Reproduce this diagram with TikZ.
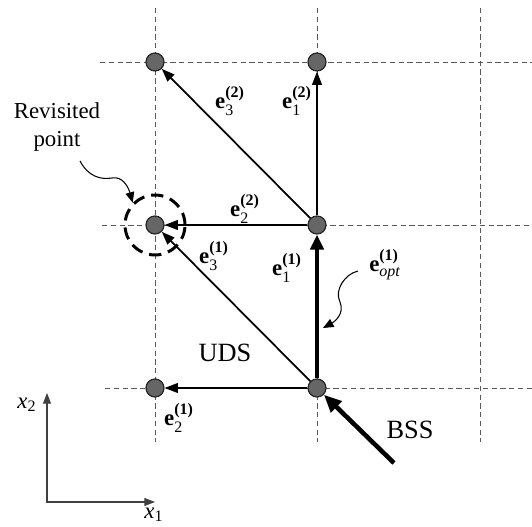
\documentclass[tikz,border=0pt]{standalone}
\usepackage{amsmath}
\usepackage{fontspec}
\setmainfont{Liberation Serif}
\usetikzlibrary{arrows.meta,positioning}
\newcommand{\evlabel}[2]{$\textbf{e}^{\textbf{(#2)}}_{\textrm{#1}}$}

\begin{document}
\begin{tikzpicture}[x=0.02cm,y=-0.02cm,
  gridline/.style={gray!70!black,line width=0.5pt,dash pattern=on 3pt off 2pt},
  dot/.style={circle,draw=black!85,line width=0.7pt,fill=black!60,minimum size=0.36cm,inner sep=0pt},
  vec/.style={line width=1pt,-{Triangle[length=7.5pt,width=5.5pt]}},
  optvec/.style={line width=2.3pt,-{Triangle[length=8.5pt,width=7.5pt]}},
  curvy/.style={line width=0.6pt,-{Triangle[length=6pt,width=5pt]}},
  axis/.style={line width=0.6pt,black!75},
  elabel/.style={font=\fontsize{13}{15}\selectfont},
  bigtext/.style={font=\fontsize{15}{17}\selectfont}]
\useasboundingbox (0,0) rectangle (532,527);
% grid
\foreach \x in {155,317,480}
  \draw[gridline] (\x,8)--(\x,442);
\draw[gridline] (100,62)--(532,62);
\draw[gridline] (102,225)--(532,225);
\draw[gridline] (105,388)--(532,388);
% search points
\node[dot] (lt) at (155,62){};
\node[dot] (rt) at (317,62){};
\node[dot] (lm) at (155,225){};
\node[dot] (rm) at (317,225){};
\node[dot] (lb) at (155,388){};
\node[dot] (rb) at (317,388){};
\node[circle,draw,line width=1.7pt,dash pattern=on 7pt off 4pt,minimum size=1.2cm] (revisit) at (lm){};
% moves
\draw[vec] (rb) -- (lb);
\draw[vec] (rb) -- (lm);
\draw[optvec] (rb) -- (rm);
\draw[vec] (rm) -- (lm);
\draw[vec] (rm) -- (lt);
\draw[vec] (rm) -- (rt);
\coordinate (bsstail) at (394,463);
\draw[line width=2.6pt,-{Triangle[length=10pt,width=8.5pt]}] (bsstail) -- (rb);
% labels
\node[elabel] (e32) at (230,101){\evlabel{3}{2}};
\node[elabel] (e12) at (297,101){\evlabel{1}{2}};
\node[elabel] (e22) at (245,209){\evlabel{2}{2}};
\node[elabel] (e31) at (214,256){\evlabel{3}{1}};
\node[elabel] (e11) at (287,268){\evlabel{1}{1}};
\node[elabel] (e21) at (179,418){\evlabel{2}{1}};
\node[elabel] (eopt) at (385,265){$\textbf{e}^{\textbf{(1)}}_{\textit{opt}}$};
\node[bigtext] (uds) at (225,353){UDS};
\node[bigtext] (bss) at (410,430){BSS};
\node[font=\fontsize{13}{16}\selectfont,align=center] (revtext) at (57,127){Revisited\\point};
% pointers
\coordinate (revtail) at (80,161);
\draw[curvy] (revtail) .. controls (88,176) and (100,180) .. (112,178) .. controls (122,176) and (128,186) .. (revisit.135);
\coordinate (opttail) at (358,271);
\coordinate (opthead) at (323,328);
\draw[curvy] (opttail) .. controls (345,274) and (334,290) .. (340,302) .. controls (345,314) and (334,322) .. (opthead);
% axes
\coordinate (origin) at (47,502);
\coordinate (x2tip) at (47,393);
\coordinate (x1tip) at (155,502);
\draw[axis,{Triangle[length=6pt,width=4.5pt]}-{Triangle[length=6pt,width=4.5pt]}] (x2tip) |- (x1tip);
\node[font=\fontsize{13}{15}\selectfont] (x2lab) at (27,405){\textit{x}\textsubscript{2}};
\node[font=\fontsize{13}{15}\selectfont] (x1lab) at (154,515){\textit{x}\textsubscript{1}};
\end{tikzpicture}
\end{document}
